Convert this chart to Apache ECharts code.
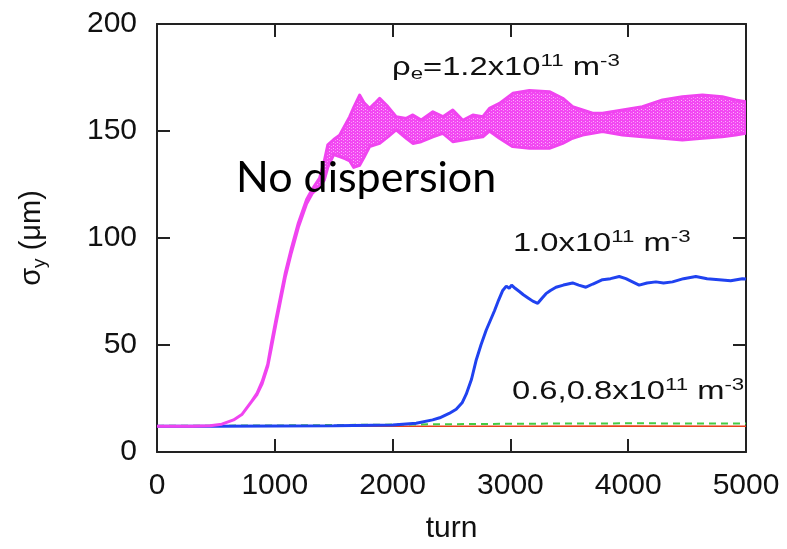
<!DOCTYPE html>
<html><head><meta charset="utf-8">
<script src="https://cdn.jsdelivr.net/npm/echarts@6/dist/echarts.min.js"></script>
<style>html,body{margin:0;padding:0;background:#fff}#c{width:787px;height:549px}</style>
</head><body><div id="c"></div>
<script>
// axis ticks
const xTicks = [0, 1000, 2000, 3000, 4000, 5000];
const yTicks = [0, 50, 100, 150, 200];

// rho_e = 1.2e11 : lower and upper envelope of the oscillating band
const mTurn = [0,300,450,550,650,720,795,850,893,940,972,1010,1050,1090,1140,1200,1270,1320,1380,1420,1450,1500,1550,1600,1636,1670,1720,1760,1805,1850,1890,1960,2030,2116,2172,2243,2342,2427,2511,2596,2681,2766,2822,2907,3020,3161,3331,3444,3528,3613,3698,3782,3952,4121,4291,4460,4630,4799,4912,5000];
const mLow  = [12,12,12.3,13,15,17.5,23,27,32,40,49,60,71,82,93,105,116,121,124,127,133,139,138,137,136,133,134,138,142.7,143.5,144.2,147.3,150.5,146.6,144.2,145,147.3,148.9,145,145.8,146.6,147.3,150,146.6,142.7,141.9,141.9,144.2,146.6,148.1,148.9,149.7,148.1,147.3,146.6,145.8,146.6,147.3,148.1,148.9];
const mHigh = [12,12,12.3,13,15,17.5,23,27.5,33,41,51,62,73,84,95,107,118,123,128,136,143.5,146,148,153,156.7,161,166.8,163,160.6,163,165.3,161.4,156.7,155.9,157.5,155.1,159,156.7,159.8,155,157.5,156.7,160.6,162.9,167.6,168.9,168.4,165.3,161.4,159.8,158.3,158.3,159.8,161.4,164.5,166,166.8,166,164.5,163.7];

// rho_e = 1.0e11
const bTurn = [0,500,1000,1500,2000,2200,2340,2400,2480,2540,2590,2625,2670,2710,2750,2795,2865,2900,2935,2965,2990,3010,3040,3076,3110,3150,3190,3232,3270,3302,3340,3387,3450,3528,3580,3641,3700,3782,3850,3924,3980,4093,4160,4235,4300,4376,4470,4574,4670,4771,4870,4969,5000];
const bVal  = [12,12,12.2,12.3,12.6,13.4,15,16,18,20,23,27,34,43,50,57,66,71,75.5,77.5,76.5,78,76.5,75,73.5,72,70.5,69.5,72,74,75.5,77,78,79,78,77,78.5,80.5,81,82,81,78,79,79.5,79,79.5,81,82,81,80.5,80,81,80.8];

// rho_e = 0.8e11 (green, dashed) and 0.6e11 (red)
const gTurn = [0,1000,2000,3000,4000,5000];
const gVal  = [12.2,12.4,12.8,13.2,13.4,13.3];
const rTurn = [0,1000,2000,3000,4000,5000];
const rVal  = [12,12,12,12,12.1,12];

const zip = (a, b) => a.map((v, i) => [v, b[i]]);
const MAG = '#f044f0';
const FONT = 'Liberation Sans';
const AX = '#222';

// small dotted texture for the magenta band
const pat = document.createElement('canvas');
pat.width = 4; pat.height = 3;
(function () {
  const g = pat.getContext('2d');
  g.fillStyle = '#f248f2'; g.fillRect(0, 0, 4, 3);
  g.fillStyle = '#fbb4fb'; g.fillRect(1, 1, 1, 1);
  g.fillStyle = '#f890f8'; g.fillRect(3, 2, 1, 1);
})();

const chart = echarts.init(document.getElementById('c'), null, {renderer: 'canvas'});

function axisCommon(showLabel) {
  return {
    axisLine: {show: true, onZero: false, lineStyle: {color: AX, width: 2}},
    axisTick: {show: true, inside: true, length: 13, lineStyle: {color: AX, width: 2}},
    axisLabel: {show: showLabel, fontSize: 30, fontFamily: FONT, color: '#111', formatter: v => String(v)},
    splitLine: {show: false}
  };
}

const ann = {
  m: {fontSize: 25, fontFamily: FONT, fill: '#111', lineHeight: 30},
  sup: {fontSize: 17, fontFamily: FONT, fill: '#111', lineHeight: 8, verticalAlign: 'top'},
  sub: {fontSize: 17, fontFamily: FONT, fill: '#111', lineHeight: 12, verticalAlign: 'bottom'}
};
function annText(x, y, text) {
  return {type: 'text', x: x, y: y, scaleX: 1.31, z: 100,
    style: {text: text, rich: ann, fill: '#111', fontSize: 25, fontFamily: FONT, align: 'left', verticalAlign: 'middle'}};
}

const xBase = axisCommon(true);
xBase.axisLabel.margin = 19;
const yBase = axisCommon(true);
yBase.axisLabel.margin = 20;

chart.setOption({
  animation: false,
  backgroundColor: '#fff',
  grid: {left: 157, right: 41, top: 24, bottom: 97, containLabel: false},
  xAxis: [
    Object.assign({type: 'value', min: xTicks[0], max: xTicks[xTicks.length - 1], interval: xTicks[1] - xTicks[0], position: 'bottom',
      name: 'turn', nameLocation: 'middle', nameGap: 62,
      nameTextStyle: {fontSize: 30, fontFamily: FONT, color: '#111'}}, xBase),
    Object.assign({type: 'value', min: xTicks[0], max: xTicks[xTicks.length - 1], interval: xTicks[1] - xTicks[0], position: 'top'}, axisCommon(false))
  ],
  yAxis: [
    Object.assign({type: 'value', min: yTicks[0], max: yTicks[yTicks.length - 1], interval: yTicks[1] - yTicks[0], position: 'left',
      name: '{s|σ}{b|y}{s| (μm)}', nameLocation: 'middle', nameGap: 108, nameRotate: 90,
      nameTextStyle: {fontSize: 29, fontFamily: FONT, color: '#111',
        rich: {s: {fontSize: 29, fontFamily: FONT, color: '#111', lineHeight: 34},
               b: {fontSize: 19, fontFamily: FONT, color: '#111', lineHeight: 20, verticalAlign: 'bottom'}}}}, yBase),
    Object.assign({type: 'value', min: yTicks[0], max: yTicks[yTicks.length - 1], interval: yTicks[1] - yTicks[0], position: 'right'}, axisCommon(false))
  ],
  series: [
    {type: 'line', name: '0.6', data: zip(rTurn, rVal), symbol: 'none', lineStyle: {color: '#e8401c', width: 1.5}, z: 2},
    {type: 'line', name: '0.8', data: zip(gTurn, gVal), symbol: 'none', lineStyle: {color: '#44cc44', width: 2, type: [7, 5]}, z: 3},
    {type: 'line', name: '1.0', data: zip(bTurn, bVal), symbol: 'none', lineStyle: {color: '#2042f0', width: 3}, z: 4},
    {type: 'custom', name: '1.2', z: 5, clip: true, data: [[0, 0]],
      renderItem: function (params, api) {
        const pts = [];
        for (let i = 0; i < mTurn.length; i++) pts.push(api.coord([mTurn[i], mHigh[i]]));
        for (let i = mTurn.length - 1; i >= 0; i--) pts.push(api.coord([mTurn[i], mLow[i]]));
        return {type: 'polygon', shape: {points: pts},
          style: {fill: {image: pat, repeat: 'repeat'}, stroke: MAG, lineWidth: 3, lineJoin: 'round'}};
      }}
  ],
  graphic: [
    annText(392, 68, '{m|ρ}{sub|e}{m|=1.2x10}{sup|11}{m| m}{sup|-3}'),
    annText(513, 244, '{m|1.0x10}{sup|11}{m| m}{sup|-3}'),
    annText(512, 392, '{m|0.6,0.8x10}{sup|11}{m| m}{sup|-3}'),
    {type: 'text', x: 236, y: 178, z: 100,
      style: {text: 'No dispersion', fill: '#000', fontSize: 43, fontFamily: 'Lato', align: 'left', verticalAlign: 'middle'}}
  ]
});
</script>
</body></html>
